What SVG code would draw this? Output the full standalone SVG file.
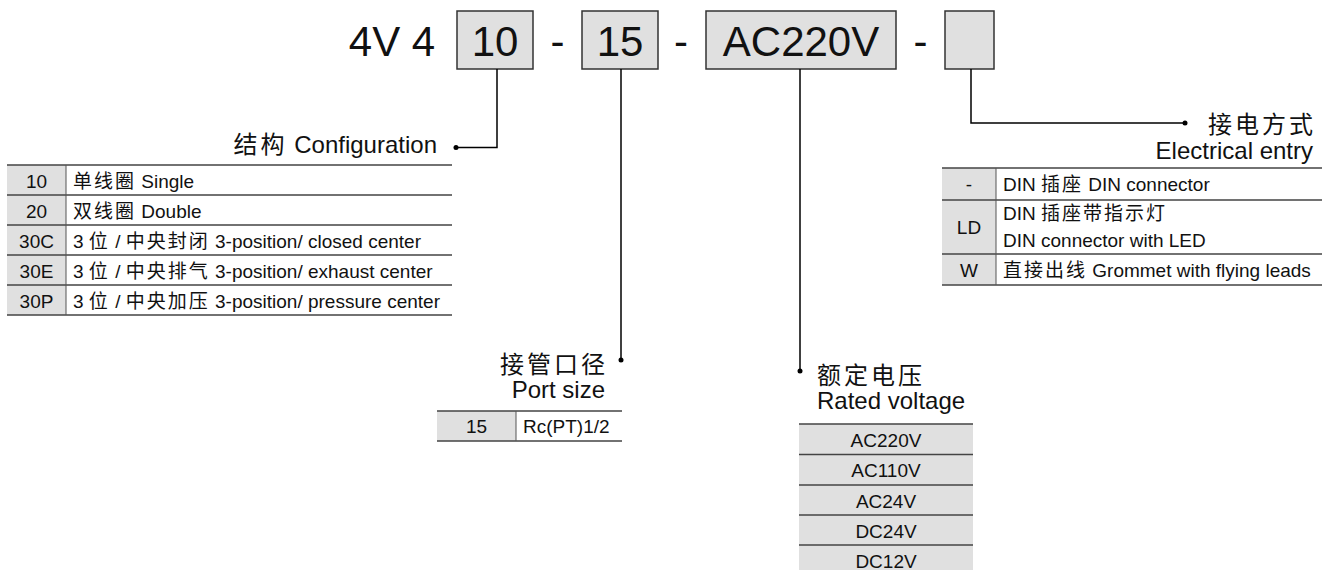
<svg xmlns="http://www.w3.org/2000/svg" width="1325" height="570" viewBox="0 0 1325 570">
<style>
text{font-family:"Liberation Sans","Noto Sans CJK SC",sans-serif;fill:#111}
.hd{font-size:42px}
.lb{font-size:24px}
.tb{font-size:19px}
.cj{letter-spacing:3px}
.cs{letter-spacing:2px}
.box{fill:#e0e0e0;stroke:#333;stroke-width:1.5}
.gray{fill:#e0e0e0}
.hl{stroke:#444;stroke-width:1.6;fill:none}
.vl{stroke:#555;stroke-width:1;fill:none}
.con{stroke:#000;stroke-width:1.5;fill:none}
.mid{text-anchor:middle}
.end{text-anchor:end}
</style>
<rect width="1325" height="570" fill="#fff"/>

<g id="header">
  <text class="hd mid" x="392" y="56">4V 4</text>
  <text class="hd mid" x="557.5" y="56">-</text>
  <text class="hd mid" x="681" y="56">-</text>
  <text class="hd mid" x="920.5" y="56">-</text>
</g>
<g id="box-config">
  <rect class="box" x="457" y="11" width="76" height="58"/>
  <text class="hd mid" x="495" y="56">10</text>
</g>
<g id="box-port">
  <rect class="box" x="582" y="11" width="76" height="58"/>
  <text class="hd mid" x="620" y="56">15</text>
</g>
<g id="box-voltage">
  <rect class="box" x="706" y="11" width="190" height="58"/>
  <text class="hd mid" x="801" y="56">AC220V</text>
</g>
<g id="box-entry">
  <rect class="box" x="945" y="11" width="49" height="58"/>
</g>

<g id="connectors">
  <path class="con" d="M497 69V147.5H456"/>
  <circle cx="456" cy="147.5" r="2.5"/>
  <path class="con" d="M621 69V360"/>
  <circle cx="621" cy="360" r="2.5"/>
  <path class="con" d="M800 69V371"/>
  <circle cx="800" cy="371" r="2.5"/>
  <path class="con" d="M971 69V123H1185"/>
  <circle cx="1185" cy="123" r="2.5"/>
</g>

<g id="config">
  <text class="lb end" x="437" y="152.5"><tspan class="cj">结构</tspan> Configuration</text>
  <rect class="gray" x="7" y="165" width="59" height="150"/>
  <path class="hl" d="M7 165H452M7 195H452M7 225H452M7 255H452M7 285H452M7 315H452"/>
  <path class="vl" d="M66 165V315"/>
  <text class="tb mid" x="36.5" y="187.5">10</text>
  <text class="tb mid" x="36.5" y="217.5">20</text>
  <text class="tb mid" x="36.5" y="247.5">30C</text>
  <text class="tb mid" x="36.5" y="277.5">30E</text>
  <text class="tb mid" x="36.5" y="307.5">30P</text>
  <text class="tb" x="73" y="187.5"><tspan class="cs">单线圈</tspan> Single</text>
  <text class="tb" x="73" y="217.5"><tspan class="cs">双线圈</tspan> Double</text>
  <text class="tb" x="73" y="247.5">3 <tspan class="cs">位</tspan> / <tspan class="cs">中央封闭</tspan> 3-position/ closed center</text>
  <text class="tb" x="73" y="277.5">3 <tspan class="cs">位</tspan> / <tspan class="cs">中央排气</tspan> 3-position/ exhaust center</text>
  <text class="tb" x="73" y="307.5">3 <tspan class="cs">位</tspan> / <tspan class="cs">中央加压</tspan> 3-position/ pressure center</text>
</g>

<g id="entry">
  <text class="lb cj" x="1208" y="133">接电方式</text>
  <text class="lb end" x="1313" y="159">Electrical entry</text>
  <rect class="gray" x="942" y="168" width="54" height="117"/>
  <path class="hl" d="M942 168H1322M942 200H1322M942 254H1322M942 285H1322"/>
  <path class="vl" d="M996 168V285"/>
  <text class="tb mid" x="969" y="191">-</text>
  <text class="tb mid" x="969" y="233.5">LD</text>
  <text class="tb mid" x="969" y="276.5">W</text>
  <text class="tb" x="1003" y="191">DIN <tspan class="cs">插座</tspan> DIN connector</text>
  <text class="tb" x="1003" y="220">DIN <tspan class="cs">插座带指示灯</tspan></text>
  <text class="tb" x="1003" y="246.5">DIN connector with LED</text>
  <text class="tb" x="1003" y="276.5"><tspan class="cs">直接出线</tspan> Grommet with flying leads</text>
</g>

<g id="port">
  <text class="lb cj" x="500" y="373">接管口径</text>
  <text class="lb end" x="605" y="398">Port size</text>
  <rect class="gray" x="437" y="411" width="79" height="30"/>
  <path class="hl" d="M437 411H622M437 441H622"/>
  <path class="vl" d="M516 411V441"/>
  <text class="tb mid" x="476.5" y="433">15</text>
  <text class="tb" x="523" y="433">Rc(PT)1/2</text>
</g>

<g id="voltage">
  <text class="lb cj" x="817" y="384">额定电压</text>
  <text class="lb" x="817" y="409">Rated voltage</text>
  <rect class="gray" x="799" y="424" width="174" height="150"/>
  <path class="hl" d="M799 424H973M799 454.5H973M799 485H973M799 515H973M799 545H973"/>
  <text class="tb mid" x="886" y="446.5">AC220V</text>
  <text class="tb mid" x="886" y="477">AC110V</text>
  <text class="tb mid" x="886" y="507.5">AC24V</text>
  <text class="tb mid" x="886" y="537.5">DC24V</text>
  <text class="tb mid" x="886" y="567.5">DC12V</text>
</g>
</svg>
